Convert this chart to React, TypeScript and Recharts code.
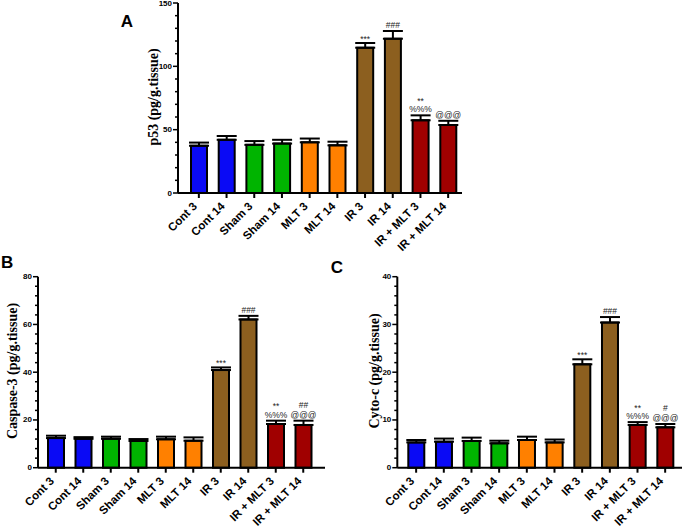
import React from 'react';
import { BarChart, Bar, XAxis, YAxis, Cell, ErrorBar, LabelList } from 'recharts';

const groups = ['Cont 3', 'Cont 14', 'Sham 3', 'Sham 14', 'MLT 3', 'MLT 14', 'IR 3', 'IR 14', 'IR + MLT 3', 'IR + MLT 14'];
const barColors = ['#0a0af5', '#0a0af5', '#00b400', '#00b400', '#ff8000', '#ff8000', '#8c5f1f', '#8c5f1f', '#a00000', '#a00000'];

const p53Mean = [37.3, 42, 38, 39, 40, 37.6, 114.7, 121.8, 57.4, 53.7];
const p53Sem = [2.5, 3, 3, 3, 3, 2.9, 3.7, 6.1, 3.9, 3.3];
const p53Ticks = [0, 10, 20, 30, 40, 50, 60, 70, 80, 90, 100, 110, 120, 130, 140, 150];
const p53Notes = [[], [], [], [], [], [], ['***'], ['###'], ['**', '%%%'], ['@@@']];

const caspMean = [12.4, 12.1, 12.1, 11.2, 11.9, 11.3, 40.9, 62.1, 18.3, 17.9];
const caspSem = [1.0, 0.7, 0.9, 0.8, 1.1, 1.4, 1.1, 1.5, 1.4, 1.8];
const caspTicks = [0, 4, 8, 12, 16, 20, 24, 28, 32, 36, 40, 44, 48, 52, 56, 60, 64, 68, 72, 76, 80];
const caspNotes = [[], [], [], [], [], [], ['***'], ['###'], ['**', '%%%'], ['##', '@@@']];

const cytoMean = [5.3, 5.45, 5.6, 5.1, 5.8, 5.3, 21.65, 30.4, 8.95, 8.45];
const cytoSem = [0.5, 0.65, 0.7, 0.55, 0.7, 0.6, 1.05, 1.15, 0.6, 0.7];
const cytoTicks = [0, 2, 4, 6, 8, 10, 12, 14, 16, 18, 20, 22, 24, 26, 28, 30, 32, 34, 36, 38, 40];
const cytoNotes = [[], [], [], [], [], [], ['***'], ['###'], ['**', '%%%'], ['#', '@@@']];

const buildRows = (mean: number[], sem: number[]) =>
  groups.map((g, i) => ({ name: g, value: mean[i], err: [0, sem[i]] }));

const FONT = 'Arial, "Liberation Sans", sans-serif';

const makeYTick = (major: number) => (props: any) => {
  const { x, y, payload } = props;
  const v = payload.value;
  const isMajor = Math.abs(v % major) < 1e-9;
  return (
    <g>
      <line x1={x - (isMajor ? 5 : 3)} x2={x} y1={y} y2={y} stroke="#000" strokeWidth={1.5} />
      {isMajor && (
        <text x={x - 6} y={y} textAnchor="end" dominantBaseline="central" fontSize={8} fontWeight="bold" fontFamily={FONT} fill="#000">
          {v}
        </text>
      )}
    </g>
  );
};

const XTick = (props: any) => {
  const { x, y, payload } = props;
  const ax = x - 1;
  const ay = y + 14;
  return (
    <g>
      <line x1={x} x2={x} y1={y} y2={y + 5} stroke="#000" strokeWidth={2} />
      <text x={ax} y={ay} transform={`rotate(-45, ${ax}, ${ay})`} textAnchor="end" fontSize={11.5} fontWeight="bold" fontFamily={FONT} fill="#000">
        {payload.value}
      </text>
    </g>
  );
};

const makeNotes = (sem: number[], notes: string[][]) => (props: any) => {
  const vb = props.viewBox || {};
  const x = props.x ?? vb.x;
  const y = props.y ?? vb.y;
  const width = props.width ?? vb.width;
  const height = props.height ?? vb.height;
  const index = props.index;
  const value = props.value;
  const lines = notes[index] || [];
  if (!lines.length) return null;
  const pxPerUnit = height / value;
  const errTop = y - sem[index] * pxPerUnit;
  const cx = x + width / 2;
  return (
    <g>
      {lines.map((t, k) => {
        const fromBottom = lines.length - 1 - k;
        const isStar = t.indexOf('*') >= 0;
        return (
          <text key={k} x={cx} y={errTop - 3 - fromBottom * 10 + (isStar ? 1.5 : 0)} textAnchor="middle" fontSize={8.5} fontFamily={FONT} fill="#222">
            {t}
          </text>
        );
      })}
    </g>
  );
};

type PanelProps = {
  mean: number[];
  sem: number[];
  ticks: number[];
  notes: string[][];
  major: number;
  width: number;
  height: number;
  margin: any;
  yWidth: number;
  xHeight: number;
  padding: any;
};

const Panel = (p: PanelProps) => {
  const rows = buildRows(p.mean, p.sem);
  const max = p.ticks[p.ticks.length - 1];
  return (
    <BarChart width={p.width} height={p.height} data={rows} margin={p.margin} barCategoryGap={0}>
      <XAxis
        dataKey="name"
        tick={XTick}
        tickSize={0}
        tickMargin={0}
        tickLine={false}
        interval={0}
        height={p.xHeight}
        padding={p.padding}
        axisLine={{ stroke: '#000', strokeWidth: 2 }}
      />
      <YAxis
        domain={[0, max]}
        ticks={p.ticks}
        interval={0}
        tick={makeYTick(p.major)}
        tickSize={0}
        tickMargin={0}
        tickLine={false}
        width={p.yWidth}
        axisLine={{ stroke: '#000', strokeWidth: 2 }}
      />
      <Bar dataKey="value" barSize={16} stroke="#000" strokeWidth={2} isAnimationActive={false}>
        {rows.map((r, i) => (
          <Cell key={r.name} fill={barColors[i]} />
        ))}
        <ErrorBar dataKey="err" width={10} strokeWidth={2} stroke="#000" direction="y" isAnimationActive={false} />
        <LabelList dataKey="value" content={makeNotes(p.sem, p.notes)} />
      </Bar>
    </BarChart>
  );
};

const titleStyle = { fontFamily: '"Liberation Serif", "Times New Roman", serif', fontWeight: 'bold' as const, fontSize: 14 };

export default function App() {
  return (
    <div style={{ position: 'absolute', left: 0, top: 0, width: 685, height: 527, background: '#fff', overflow: 'hidden' }}>
      <div style={{ position: 'absolute', left: 0, top: 0 }}>
        <Panel
          mean={p53Mean}
          sem={p53Sem}
          ticks={p53Ticks}
          notes={p53Notes}
          major={50}
          width={685}
          height={260}
          margin={{ top: 3, right: 223, bottom: 0, left: 130 }}
          yWidth={48}
          xHeight={67}
          padding={{ left: 7, right: 0 }}
        />
      </div>
      <div style={{ position: 'absolute', left: 0, top: 270 }}>
        <Panel
          mean={caspMean}
          sem={caspSem}
          ticks={caspTicks}
          notes={caspNotes}
          major={20}
          width={340}
          height={257}
          margin={{ top: 6.7, right: 15, bottom: 0, left: 8 }}
          yWidth={30}
          xHeight={59.3}
          padding={{ left: 4, right: 8 }}
        />
      </div>
      <div style={{ position: 'absolute', left: 340, top: 270 }}>
        <Panel
          mean={cytoMean}
          sem={cytoSem}
          ticks={cytoTicks}
          notes={cytoNotes}
          major={10}
          width={345}
          height={257}
          margin={{ top: 6.7, right: 3, bottom: 0, left: 27.3 }}
          yWidth={30}
          xHeight={59.3}
          padding={{ left: 5, right: 3 }}
        />
      </div>
      <svg width={685} height={527} style={{ position: 'absolute', left: 0, top: 0, pointerEvents: 'none' }}>
        <text transform="translate(153,97) rotate(-90)" textAnchor="middle" dominantBaseline="central" {...titleStyle} fill="#000">
          p53 (pg/g.tissue)
        </text>
        <text transform="translate(12,371) rotate(-90)" textAnchor="middle" dominantBaseline="central" {...titleStyle} fill="#000">
          Caspase-3 (pg/g.tissue)
        </text>
        <text transform="translate(374,371) rotate(-90)" textAnchor="middle" dominantBaseline="central" {...titleStyle} fill="#000">
          Cyto-c (pg/g.tissue)
        </text>
        <text x={127} y={21} textAnchor="middle" dominantBaseline="central" fontFamily={FONT} fontWeight="bold" fontSize={17} fill="#000">A</text>
        <text x={1} y={262} textAnchor="start" dominantBaseline="central" fontFamily={FONT} fontWeight="bold" fontSize={17} fill="#000">B</text>
        <text x={337} y={267} textAnchor="middle" dominantBaseline="central" fontFamily={FONT} fontWeight="bold" fontSize={17} fill="#000">C</text>
      </svg>
    </div>
  );
}
